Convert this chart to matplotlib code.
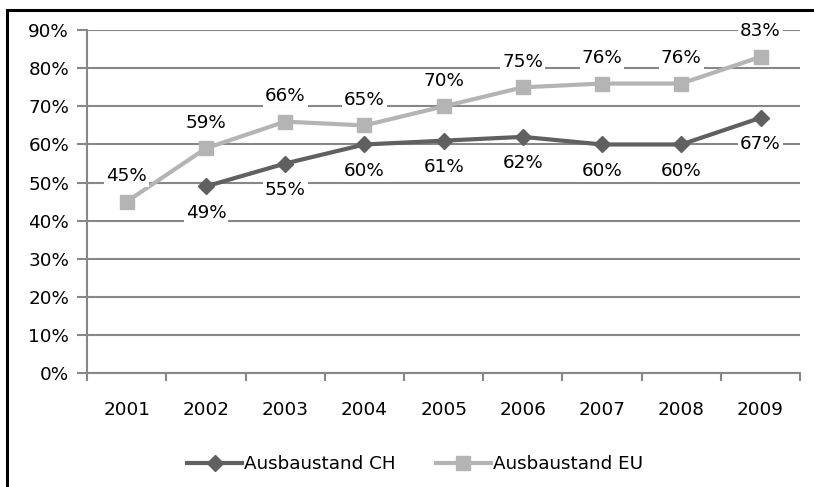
import matplotlib.pyplot as plt
from matplotlib.patches import Rectangle
from matplotlib.ticker import FuncFormatter

# Daten
jahre = ['2001', '2002', '2003', '2004', '2005', '2006', '2007', '2008', '2009']
ch = [None, 49, 55, 60, 61, 62, 60, 60, 67]
eu = [45, 59, 66, 65, 70, 75, 76, 76, 83]

plt.rcParams['font.family'] = 'DejaVu Sans'
plt.rcParams['font.size'] = 13.2

fig = plt.figure(figsize=(8.14, 4.87), dpi=100)
ax = fig.add_axes([0.107, 0.234, 0.876, 0.704])

x = list(range(len(jahre)))
grau = '#878787'

# Linien
x_ch = [i for i, v in zip(x, ch) if v is not None]
y_ch = [v for v in ch if v is not None]
ax.plot(x_ch, y_ch, color='#606060', lw=3, marker='D', ms=8.5, zorder=4,
        label='Ausbaustand CH')
ax.plot(x, eu, color='#b4b4b4', lw=3, marker='s', ms=10, zorder=3,
        label='Ausbaustand EU')

# Datenbeschriftungen mit weissem Hintergrund
box = dict(facecolor='white', edgecolor='none', pad=1.5)
for xi, v in zip(x, eu):
    ax.annotate(f'{v}%', (xi, v), xytext=(0, 18.5), textcoords='offset points',
                ha='center', va='center', bbox=box, zorder=5)
for xi, v in zip(x_ch, y_ch):
    ax.annotate(f'{v}%', (xi, v), xytext=(0, -19), textcoords='offset points',
                ha='center', va='center', bbox=box, zorder=5)

# Achsen
ax.set_xlim(-0.5, len(jahre) - 0.5)
ax.set_ylim(0, 90)
ax.set_yticks(range(0, 91, 10))
ax.yaxis.set_major_formatter(FuncFormatter(lambda v, p: f'{int(v)}%'))
ax.set_xticks(x)
ax.set_xticklabels(jahre)
ax.set_xticks([i - 0.5 for i in range(len(jahre) + 1)], minor=True)
ax.tick_params(axis='x', which='major', length=0, pad=20)
ax.tick_params(axis='x', which='minor', length=6, width=1.5, color=grau)
ax.tick_params(axis='y', length=7, width=1.5, color=grau, pad=6)
ax.grid(axis='y', color=grau, lw=1.5)
ax.set_axisbelow(True)
for s in ['top', 'right']:
    ax.spines[s].set_visible(False)
for s in ['left', 'bottom']:
    ax.spines[s].set_color(grau)
    ax.spines[s].set_linewidth(1.5)

fig.legend(loc='center', bbox_to_anchor=(0.51, 0.047), ncol=2, frameon=False,
           handlelength=3, handletextpad=0.1, columnspacing=2.2)

# Rahmen (nur links und oben sichtbar)
fig.add_artist(Rectangle((7 / 814, -0.5), 2, 0.5 + (487 - 9.5) / 487,
                         transform=fig.transFigure, fill=False,
                         edgecolor='black', lw=2.2, clip_on=False))

fig.savefig('out.png', dpi=100)
